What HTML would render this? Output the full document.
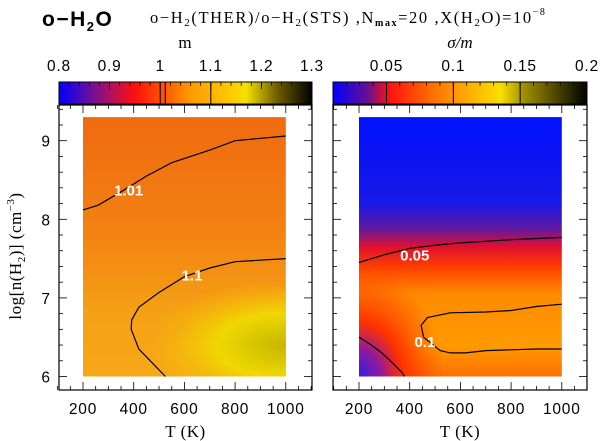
<!DOCTYPE html>
<html><head><meta charset="utf-8">
<style>
body{margin:0;background:#fff;}
svg{display:block;font-family:"Liberation Sans",sans-serif;}
.serif{font-family:"Liberation Serif",serif;}
</style></head>
<body>
<svg id="fig" width="600" height="441" viewBox="0 0 600 441" xmlns="http://www.w3.org/2000/svg">
<defs>
 <linearGradient id="cbL" x1="0" x2="1" y1="0" y2="0">
  <stop offset="0" stop-color="#0000ff"/><stop offset="0.14" stop-color="#7a1090"/>
  <stop offset="0.3" stop-color="#ff1010"/><stop offset="0.42" stop-color="#ff5a00"/>
  <stop offset="0.52" stop-color="#ff9a00"/><stop offset="0.66" stop-color="#ffc400"/>
  <stop offset="0.74" stop-color="#f4e000"/><stop offset="0.86" stop-color="#706000"/>
  <stop offset="1" stop-color="#000000"/></linearGradient>
 <linearGradient id="cbR" x1="0" x2="1" y1="0" y2="0">
  <stop offset="0" stop-color="#0000ff"/><stop offset="0.14" stop-color="#6a1090"/>
  <stop offset="0.22" stop-color="#ff1010"/><stop offset="0.38" stop-color="#ff6a00"/>
  <stop offset="0.5" stop-color="#ffa000"/><stop offset="0.66" stop-color="#f8e000"/>
  <stop offset="0.75" stop-color="#a09000"/><stop offset="1" stop-color="#000000"/></linearGradient>
 <linearGradient id="mapL" x1="0" x2="0" y1="0" y2="1">
  <stop offset="0" stop-color="#f06a10"/><stop offset="0.45" stop-color="#f38212"/>
  <stop offset="0.75" stop-color="#f5a015"/><stop offset="1" stop-color="#f6a818"/></linearGradient>
 <radialGradient id="hotL" cx="1" cy="0.88" r="0.5" gradientTransform="translate(1,0.88) scale(1.35,0.5) translate(-1,-0.88)">
  <stop offset="0" stop-color="#c8b400"/><stop offset="0.25" stop-color="#d8c800"/>
  <stop offset="0.5" stop-color="#f0dc00" stop-opacity="0.9"/><stop offset="1" stop-color="#f5c000" stop-opacity="0"/></radialGradient>
 <linearGradient id="mapR" x1="0" x2="0" y1="0" y2="1">
  <stop offset="0" stop-color="#0010ff"/><stop offset="0.33" stop-color="#1818e8"/>
  <stop offset="0.43" stop-color="#6018a0"/><stop offset="0.5" stop-color="#e01030"/>
  <stop offset="0.58" stop-color="#ff4000"/><stop offset="0.68" stop-color="#ff8a00"/>
  <stop offset="0.88" stop-color="#ff9a00"/><stop offset="1" stop-color="#ff7000"/></linearGradient>
 <radialGradient id="cornerR" cx="0" cy="1" r="0.42">
  <stop offset="0" stop-color="#3020e0"/><stop offset="0.25" stop-color="#9018a0"/>
  <stop offset="0.5" stop-color="#ff2000" stop-opacity="0.85"/><stop offset="1" stop-color="#ff4000" stop-opacity="0"/></radialGradient>
</defs>
<g id="root"></g>
</svg>
<script>
// contour data (T [K], log n)
const c101T=[200,260,350,450,550,700,800,1000];
const c101N=[8.12,8.18,8.35,8.55,8.72,8.88,9.0,9.06];
const c11T=[525,480,420,390,392,420,500,600,700,800,1000];
const c11N=[6.0,6.15,6.35,6.6,6.72,6.88,7.07,7.27,7.38,7.46,7.5];
const c005T=[200,250,300,400,500,600,800,1000];
const c005N=[7.45,7.5,7.55,7.63,7.67,7.7,7.74,7.77];
const c01T=[1000,900,800,700,620,560,520,455,445,470,560,700,800,900,1000];
const c01N=[6.35,6.35,6.34,6.33,6.3,6.3,6.33,6.5,6.65,6.75,6.81,6.82,6.84,6.89,6.92];
const c01bT=[200,240,290,330,370,380];
const c01bN=[6.5,6.42,6.3,6.18,6.05,6.0];
const xTicks=[200,400,600,800,1000];
const yTicks=[6,7,8,9];
const cbLTicks=[0.8,0.9,1,1.1,1.2,1.3];
const cbLLines=[1,1.01,1.1];
const cbRTicks=[0.05,0.1,0.15,0.2];
const cbRLines=[0.05,0.1,0.15];

const NS="http://www.w3.org/2000/svg";
const root=document.getElementById('root');
function mk(tag,attrs,parent){const e=document.createElementNS(NS,tag);for(const k in attrs)e.setAttribute(k,attrs[k]);(parent||root).appendChild(e);return e;}
function yS(v){return 376.5-(v-6)*78.6;}
function xS(off){return function(t){return off+(t-200)*0.2535;};}
const panels=[{x0:59,x1:312,xs:xS(83),name:'left'},{x0:333,x1:587,xs:xS(359),name:'right'}];
const FT=105,FB=390;

let t=mk('text',{x:42,y:26,'font-size':21,'font-weight':'bold','letter-spacing':'1.5'});

t.innerHTML='o−H<tspan font-size="13" dy="5">2</tspan><tspan dy="-5">O</tspan>';
t=mk('text',{x:150,y:23,'font-size':16.5,class:'serif','letter-spacing':'1.6'});

t.innerHTML='o−H<tspan font-size="11" dy="3">2</tspan><tspan dy="-3">(THER)/o−H</tspan><tspan font-size="11" dy="3">2</tspan><tspan dy="-3">(STS)  ,N</tspan><tspan font-size="10" dy="3" font-weight="bold" class="serif">max</tspan><tspan dy="-3">=20  ,X(H</tspan><tspan font-size="11" dy="3">2</tspan><tspan dy="-3">O)=10</tspan><tspan font-size="10" dy="-8">−8</tspan>';
t=mk('text',{x:185,y:48,'font-size':17,'text-anchor':'middle',class:'serif'});t.textContent='m';

t=mk('text',{x:460,y:48,'font-size':17,'text-anchor':'middle',class:'serif','font-style':'italic'});t.textContent='σ/m';


function colorbar(x0,x1,vmin,vmax,grad,ticks,lines,minorStep,name){
 const cs=v=>x0+(v-vmin)/(vmax-vmin)*(x1-x0);
 let r=mk('rect',{x:x0,y:82,width:x1-x0,height:22,fill:'url(#'+grad+')',stroke:'#000','stroke-width':1});
 
 for(let v=vmin;v<=vmax+1e-9;v+=minorStep){mk('line',{x1:cs(v),x2:cs(v),y1:82,y2:86,stroke:'#000','stroke-width':0.7});}
 ticks.forEach(v=>{mk('line',{x1:cs(v),x2:cs(v),y1:82,y2:89,stroke:'#000','stroke-width':0.8});
  let tx=mk('text',{x:cs(v),y:71,'font-size':15.5,'text-anchor':'middle','letter-spacing':'0.8'});tx.textContent=String(v);
  });
 lines.forEach(v=>{let l=mk('line',{x1:cs(v),x2:cs(v),y1:82,y2:104,stroke:'#000','stroke-width':1});
  });
}
colorbar(59,312,0.8,1.3,'cbL',cbLTicks,cbLLines,0.02,'colorbar-left');
colorbar(333,587,0.01,0.2,'cbR',cbRTicks,cbRLines,0.01,'colorbar-right');

function contour(p,T,N,name){
 const d=T.map((v,i)=>(i?'L':'M')+p.xs(v).toFixed(1)+','+yS(N[i]).toFixed(1)).join(' ');
 const e=mk('path',{d:d,fill:'none',stroke:'#000','stroke-width':1.2});
 
}
function label(p,T,N,txt,name){
 const e=mk('text',{x:p.xs(T),y:yS(N)+6,'font-size':15,'font-weight':'bold',fill:'#fff','text-anchor':'middle'});
 e.textContent=txt;
}

panels.forEach((p,i)=>{
 const g=mk('rect',{x:p.x0,y:FT,width:p.x1-p.x0,height:FB-FT,fill:'#fff',stroke:'#000','stroke-width':1.2});
 
 const mx=p.xs(200),my=yS(9.3),mw=p.xs(1000)-p.xs(200),mh=yS(6)-yS(9.3);
 const hm=mk('rect',{x:mx,y:my,width:mw,height:mh,fill:i?'url(#mapR)':'url(#mapL)'});
 
 mk('rect',{x:mx,y:my,width:mw,height:mh,fill:i?'url(#cornerR)':'url(#hotL)'});
 for(let v=100;v<=1100;v+=50){const M=v%200===0;const x=p.xs(v);
  mk('line',{x1:x,x2:x,y1:FB,y2:FB-(M?8:4),stroke:'#000','stroke-width':0.8});
  mk('line',{x1:x,x2:x,y1:FT,y2:FT+(M?8:4),stroke:'#000','stroke-width':0.8});}
 for(let k=0;k<=18;k++){const v=5.8+k*0.2;const M=Math.abs(v-Math.round(v))<1e-6;const y=yS(v);if(y<FT||y>FB)continue;
  mk('line',{x1:p.x0,x2:p.x0+(M?8:4),y1:y,y2:y,stroke:'#000','stroke-width':0.8});
  mk('line',{x1:p.x1,x2:p.x1-(M?8:4),y1:y,y2:y,stroke:'#000','stroke-width':0.8});}
 xTicks.forEach(v=>{const e=mk('text',{x:p.xs(v),y:414,'font-size':15.5,'text-anchor':'middle','letter-spacing':'0.8'});e.textContent=v;
  });
 const xt=mk('text',{x:(p.x0+p.x1)/2,y:437,'font-size':17,'text-anchor':'middle',class:'serif','letter-spacing':'0.5'});xt.textContent='T (K)';
 
});
yTicks.forEach(v=>{const e=mk('text',{x:50,y:yS(v)+6,'font-size':15.5,'text-anchor':'end'});e.textContent=v;
 });
const yt=mk('text',{x:0,y:0,'font-size':17,'text-anchor':'middle',class:'serif','letter-spacing':'0.5',transform:'translate(21,256) rotate(-90)'});
yt.innerHTML='log[n(H<tspan font-size="11" dy="4">2</tspan><tspan dy="-4">)]  (cm</tspan><tspan font-size="11" dy="-7">−3</tspan><tspan dy="7">)</tspan>';


const L=panels[0],R=panels[1];
contour(L,c101T,c101N,'contour-1.01');
contour(L,c11T,c11N,'contour-1.1');
contour(R,c005T,c005N,'contour-0.05');
contour(R,c01T,c01N,'contour-0.1');
contour(R,c01bT,c01bN,'contour-0.1-corner');
label(L,380,8.38,'1.01','label-1.01');
label(L,630,7.3,'1.1','label-1.1');
label(R,420,7.55,'0.05','label-0.05');
label(R,460,6.45,'0.1','label-0.1');
</script>
</body></html>
